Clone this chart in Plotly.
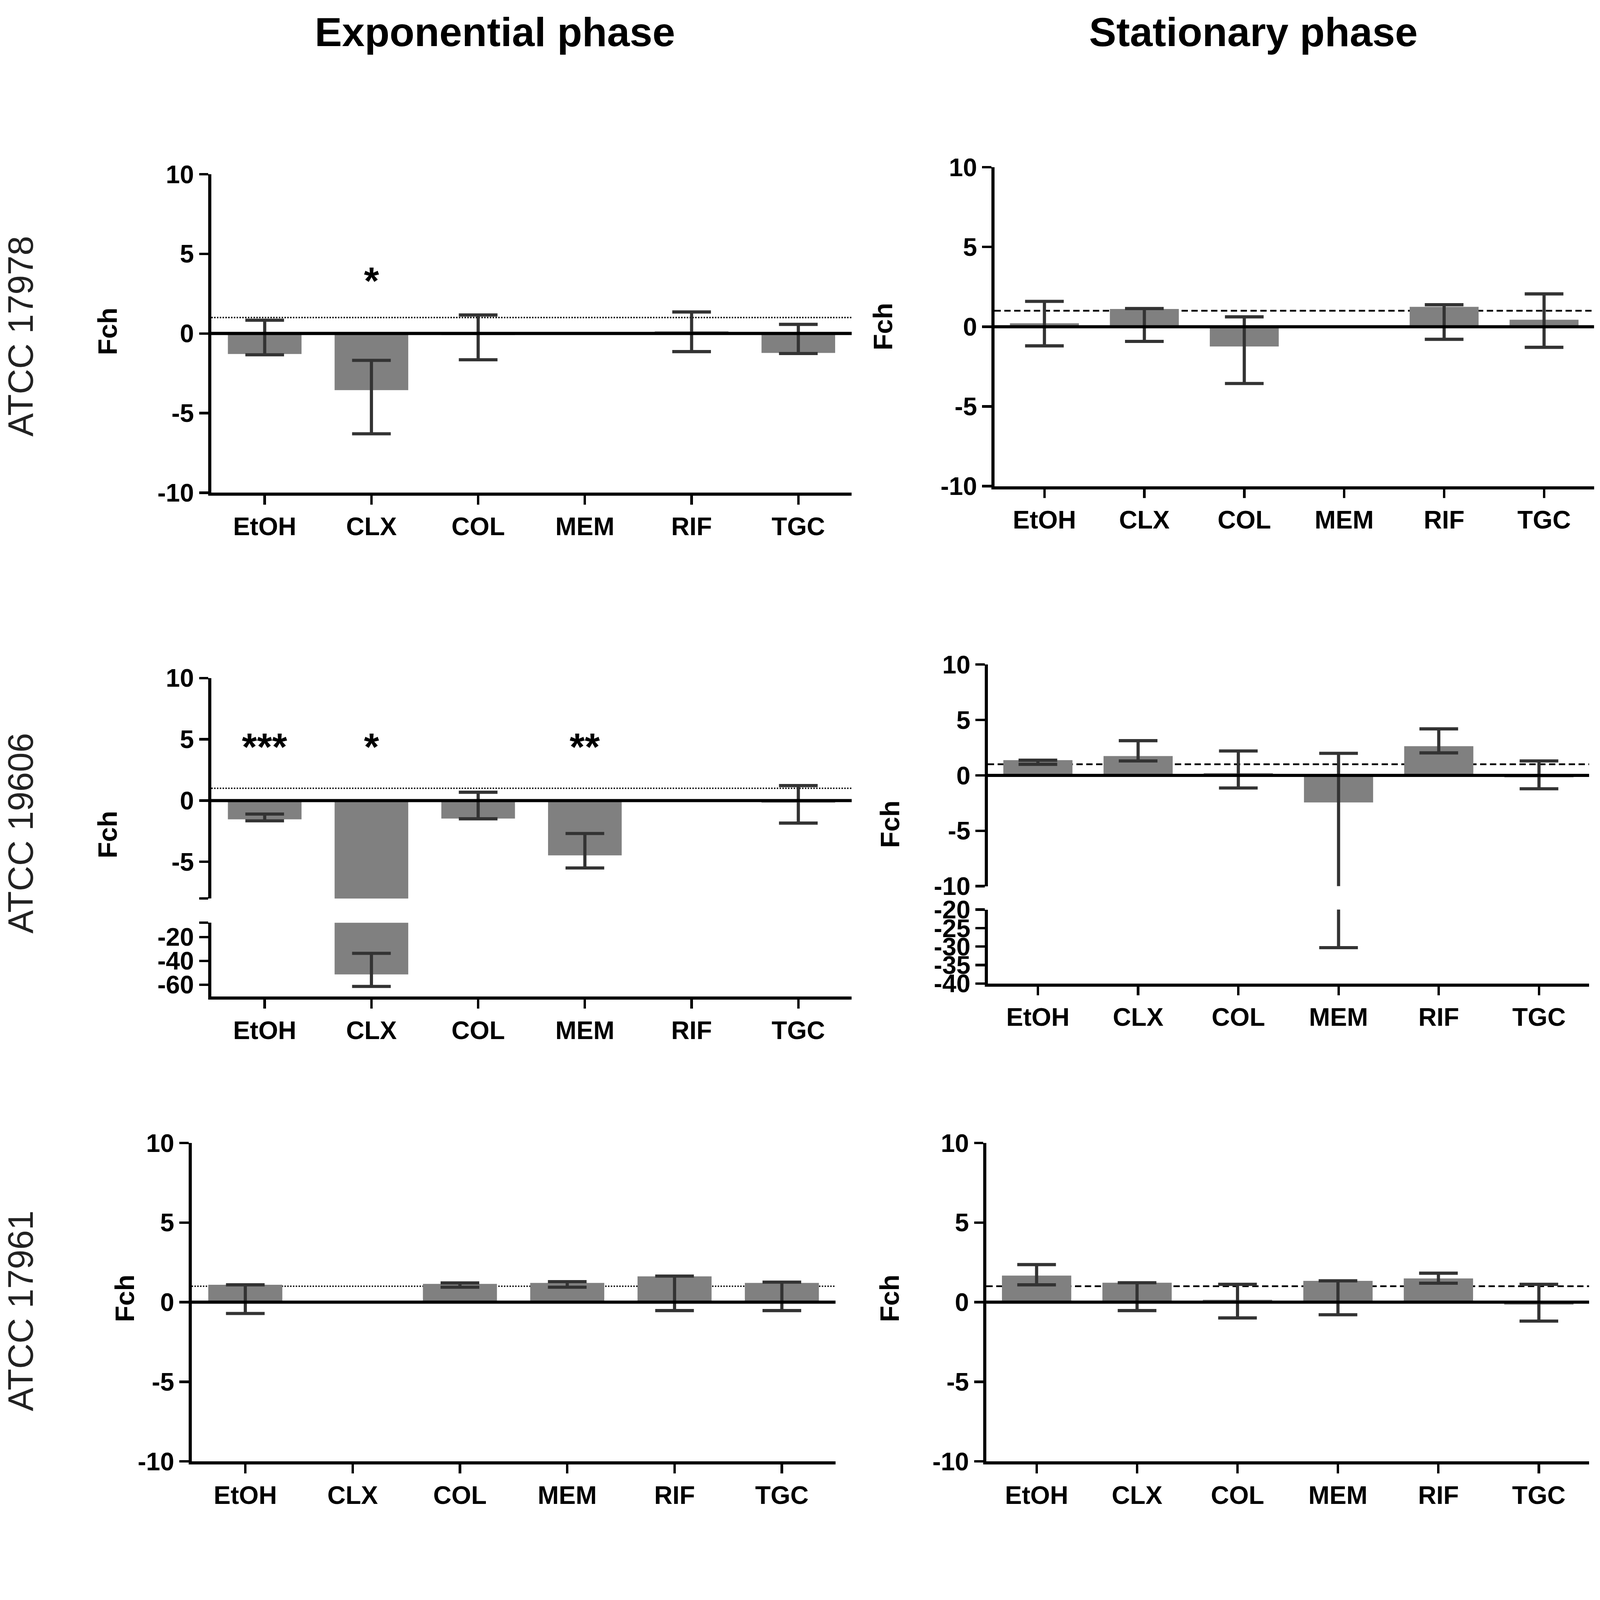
import plotly.graph_objects as go

W, H = 4550, 4299

categories = ["EtOH", "CLX", "COL", "MEM", "RIF", "TGC"]

# fold change (bar) and the top / bottom of each error bar
exp_17978 = [-1.29, -3.56, -0.10, None, 0.13, -1.22]
exp_17978_hi = [0.83, -1.69, 1.16, None, 1.35, 0.57]
exp_17978_lo = [-1.34, -6.30, -1.65, None, -1.14, -1.26]

stat_17978 = [0.22, 1.11, -1.24, None, 1.25, 0.44]
stat_17978_hi = [1.59, 1.14, 0.62, None, 1.38, 2.06]
stat_17978_lo = [-1.20, -0.92, -3.56, None, -0.79, -1.29]

exp_19606 = [-1.53, -51.4, -1.47, -4.47, None, -0.17]
exp_19606_hi = [-1.10, -33.7, 0.68, -2.69, None, 1.22]
exp_19606_lo = [-1.65, -61.5, -1.49, -5.50, None, -1.84]

stat_19606 = [1.37, 1.74, 0.20, -2.44, 2.63, -0.18]
stat_19606_hi = [1.37, 3.13, 2.20, 1.99, 4.20, 1.30]
stat_19606_lo = [1.00, 1.30, -1.14, -30.3, 2.03, -1.21]

exp_17961 = [1.09, None, 1.15, 1.21, 1.62, 1.21]
exp_17961_hi = [1.06, None, 1.21, 1.29, 1.64, 1.26]
exp_17961_lo = [-0.71, None, 0.94, 0.94, -0.53, -0.53]

stat_17961 = [1.67, 1.22, 0.15, 1.34, 1.49, -0.15]
stat_17961_hi = [2.36, 1.19, 1.12, 1.34, 1.82, 1.12]
stat_17961_lo = [1.09, -0.53, -0.99, -0.79, 1.19, -1.19]

stars_exp_17978 = ["", "*", "", "", "", ""]
stars_exp_19606 = ["***", "*", "", "**", "", ""]

col_titles = ["Exponential phase", "Stationary phase"]
row_titles = ["ATCC 17978", "ATCC 19606", "ATCC 17961"]

FONT = "Liberation Sans, Arial, sans-serif"
BAR = "#808080"
ERR = "#333333"


def fx(p):
    return p / W


def fy(p):
    return 1 - p / H


def errs(mean, hi, lo):
    plus, minus = [], []
    for m, h, l in zip(mean, hi, lo):
        if m is None:
            plus.append(None)
            minus.append(None)
        else:
            plus.append(max(0, h - m))
            minus.append(max(0, m - l))
    return plus, minus


# (axis no, x px, y px, y range, tickvals, ticktext, show x axis, data, ref line dash, zero line)
std_ticks = [-10, -5, 0, 5, 10]
panels = [
    (1, (601, 2422), (464, 1387), [-10, 10], std_ticks, None, True,
     (exp_17978, exp_17978_hi, exp_17978_lo), "4px,4px", True),
    (2, (2828, 4533), (444, 1368), [-10, 10], std_ticks, None, True,
     (stat_17978, stat_17978_hi, stat_17978_lo), "18px,10px", True),
    (3, (601, 2422), (1924, 2563), [-8, 10], [-8, -5, 0, 5, 10], ["", "-5", "0", "5", "10"], False,
     (exp_19606, exp_19606_hi, exp_19606_lo), "4px,4px", True),
    (4, (601, 2422), (2633, 2847), [-70, -8], [-60, -40, -20, -8], ["-60", "-40", "-20", ""], True,
     (exp_19606, exp_19606_hi, exp_19606_lo), None, False),
    (5, (2809, 4519), (1885, 2527), [-10, 10], std_ticks, None, False,
     (stat_19606, stat_19606_hi, stat_19606_lo), "18px,10px", True),
    (6, (2809, 4519), (2595, 2809), [-40, -20], [-40, -35, -30, -25, -20], None, True,
     (stat_19606, stat_19606_hi, stat_19606_lo), None, False),
    (7, (545, 2376), (3271, 4194), [-10, 10], std_ticks, None, True,
     (exp_17961, exp_17961_hi, exp_17961_lo), "4px,4px", True),
    (8, (2805, 4519), (3271, 4194), [-10, 10], std_ticks, None, True,
     (stat_17961, stat_17961_hi, stat_17961_lo), "18px,10px", True),
]

fig = go.Figure()
layout = {}
shapes = []
annotations = []

for n, xp, yp, yr, tv, tt, showx, (mean, hi, lo), dash, zero in panels:
    xs = "x" if n == 1 else f"x{n}"
    ys = "y" if n == 1 else f"y{n}"
    plus, minus = errs(mean, hi, lo)
    fig.add_trace(go.Bar(
        x=categories, y=mean, xaxis=xs, yaxis=ys, width=0.69,
        marker=dict(color=BAR, line=dict(width=0)),
        error_y=dict(type="data", symmetric=False, array=plus, arrayminus=minus,
                     color=ERR, thickness=9, width=55),
        showlegend=False,
    ))
    xa = dict(domain=[fx(xp[0]), fx(xp[1])], anchor=ys, type="category",
              categoryorder="array", categoryarray=categories, range=[-0.5, 5.5],
              showgrid=False, zeroline=False, fixedrange=True)
    if showx:
        xa.update(showline=True, linecolor="black", linewidth=9, ticks="outside",
                  ticklen=25, tickwidth=7, tickcolor="black",
                  tickfont=dict(family=FONT, size=72, color="black", weight="bold"))
    else:
        xa.update(visible=False)
    ya = dict(domain=[fy(yp[1]), fy(yp[0])], anchor=xs, range=yr,
              tickvals=tv, ticktext=tt if tt is not None else [str(v) for v in tv],
              showline=True, linecolor="black", linewidth=9,
              ticks="outside", ticklen=26, tickwidth=7, tickcolor="black",
              showgrid=False, zeroline=False, fixedrange=True,
              tickfont=dict(family=FONT, size=72, color="black", weight="bold"))
    layout["xaxis" if n == 1 else f"xaxis{n}"] = xa
    layout["yaxis" if n == 1 else f"yaxis{n}"] = ya

    if dash:
        shapes.append(dict(type="line", xref=f"{xs} domain", yref=ys, x0=0, x1=1, y0=1, y1=1,
                           line=dict(color="black", width=4 if dash.startswith("4") else 5, dash=dash),
                           layer="below"))
    if zero:
        shapes.append(dict(type="line", xref=f"{xs} domain", yref=ys, x0=0, x1=1, y0=0, y1=0,
                           line=dict(color="black", width=9), layer="above"))

# significance marks
for stars, xs, ys, yv in [(stars_exp_17978, "x", "y", 3.3), (stars_exp_19606, "x3", "y3", 4.4)]:
    for c, s in zip(categories, stars):
        if s:
            annotations.append(dict(text=f"<b>{s}</b>", x=c, y=yv, xref=xs, yref=ys,
                                    xanchor="center", yanchor="middle", showarrow=False,
                                    font=dict(family=FONT, size=110, color="black")))

# "Fch" axis titles
for px, py in [(306, 920), (2510, 906), (306, 2378), (2530, 2348), (355, 3722), (2530, 3722)]:
    annotations.append(dict(text="<b>Fch</b>", x=fx(px), y=fy(py), xref="paper", yref="paper",
                            xanchor="center", yanchor="middle", textangle=-90, showarrow=False,
                            font=dict(family=FONT, size=76, color="black")))

# column and row titles
for t, px in zip(col_titles, [1407, 3564]):
    annotations.append(dict(text=f"<b>{t}</b>", x=fx(px), y=fy(52), xref="paper", yref="paper",
                            xanchor="center", yanchor="middle", showarrow=False,
                            font=dict(family=FONT, size=116, color="black")))
for t, py in zip(row_titles, [934, 2374, 3758]):
    annotations.append(dict(text=t, x=fx(58), y=fy(py), xref="paper", yref="paper",
                            xanchor="center", yanchor="middle", textangle=-90, showarrow=False,
                            font=dict(family=FONT, size=100, color="#222222")))

fig.update_layout(
    width=W, height=H, margin=dict(l=0, r=0, t=0, b=0),
    paper_bgcolor="white", plot_bgcolor="white",
    shapes=shapes, annotations=annotations, bargap=0.31,
    **layout,
)

# fit the fixed-size figure into whatever viewport the page gets
fit_js = """
var gd = document.getElementById('{plot_id}');
document.documentElement.style.overflow = 'hidden';
document.body.style.margin = '0';
var s = Math.min(window.innerWidth / %d, window.innerHeight / %d);
if (s < 1) {
    gd.style.transformOrigin = '0 0';
    gd.style.transform = 'scale(' + s + ')';
}
""" % (W, H)

fig.write_html("out.html", post_script=fit_js, config={"displayModeBar": False})
